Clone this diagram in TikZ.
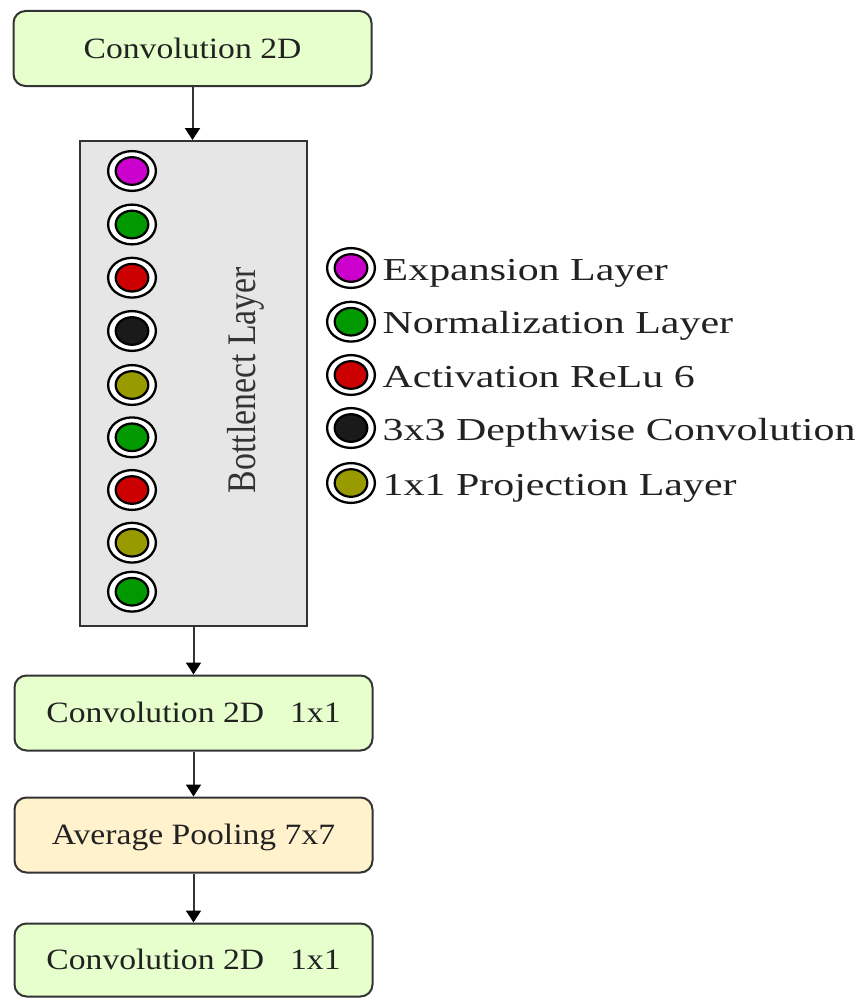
\documentclass[tikz,border=0pt]{standalone}
\usepackage{fontspec}
\setmainfont{Liberation Serif}
\newfontfamily\boxfont{Liberation Serif}[FakeStretch=1.14]
\newfontfamily\legendfont{Liberation Serif}[FakeStretch=1.31]
\usetikzlibrary{arrows.meta,shapes.geometric}

\definecolor{boxgreen}{HTML}{E6FFCC}
\definecolor{boxsand}{HTML}{FFF2CC}
\definecolor{panelgray}{HTML}{E6E6E6}
\definecolor{edgegray}{HTML}{333333}
\definecolor{inkdark}{HTML}{222222}
\definecolor{cexp}{HTML}{CC00CC}
\definecolor{cnorm}{HTML}{009900}
\definecolor{cact}{HTML}{CC0000}
\definecolor{cdw}{HTML}{1A1A1A}
\definecolor{cproj}{HTML}{999900}

\begin{document}
\begin{tikzpicture}[x=1pt,y=-1pt,
  layerbox/.style={rectangle, rounded corners=12pt, draw=edgegray, line width=2pt,
    minimum width=358pt, minimum height=75pt, inner sep=0pt,
    text height=19.3pt, text depth=0pt, text=inkdark,
    font=\boxfont\fontsize{29.5}{30}\selectfont},
  flow/.style={draw=edgegray, line width=2pt,
    -{Triangle[length=12pt,width=15pt,color=black]}},
  ring/.style={ellipse, draw=black, fill=white, line width=2.3pt,
    minimum width=47.8pt, minimum height=39.8pt, inner sep=0pt},
  core/.style={ellipse, draw=black, fill=#1, line width=2.2pt,
    minimum width=32.6pt, minimum height=27.6pt, inner sep=0pt},
  legendtext/.style={anchor=base west, inner sep=0pt, text=inkdark,
    font=\legendfont\fontsize{32}{34}\selectfont}
]
\useasboundingbox (0,0) rectangle (862,998);

% main flow of blocks
\node[layerbox, fill=boxgreen] (conv1) at (192.5,48.5) {Convolution 2D};
\node[draw=edgegray, fill=panelgray, line width=2pt, minimum width=227pt,
      minimum height=485pt, inner sep=0pt] (neck) at (193.5,383.5) {};
\node[layerbox, fill=boxgreen] (conv2) at (193.5,713) {Convolution 2D\hspace{26pt}1x1};
\node[layerbox, fill=boxsand] (pool) at (193.5,835) {Average Pooling 7x7};
\node[layerbox, fill=boxgreen, minimum height=73pt] (conv3) at (193.5,960) {Convolution 2D\hspace{26pt}1x1};

% vertical title of the bottleneck block
\node[inner sep=0pt, text=edgegray] (necklabel) at (245.5,380)
  {\scalebox{1.2}[1]{\rotatebox{90}{\fontsize{33.8}{34}\selectfont Bottlenect Layer}}};

% layer markers inside the bottleneck block
\foreach \i/\yy/\c in {1/171/cexp, 2/224.5/cnorm, 3/277.7/cact, 4/331/cdw,
                       5/385/cproj, 6/437.3/cnorm, 7/490/cact, 8/542.7/cproj,
                       9/591.7/cnorm} {
  \node[ring] (s\i) at (132,\yy) {};
  \node[core=\c] (s\i-in) at (s\i.center) {};
}

% legend
\foreach \i/\yy/\c/\t in {1/268/cexp/Expansion Layer,
                          2/321.7/cnorm/Normalization Layer,
                          3/375/cact/Activation ReLu 6,
                          4/428/cdw/3x3 Depthwise Convolution,
                          5/483/cproj/1x1 Projection Layer} {
  \node[ring] (k\i) at (351,\yy) {};
  \node[core=\c] (k\i-in) at (k\i.center) {};
  \node[legendtext] (k\i-txt) at ([xshift=31.5pt,yshift=-12pt]k\i.center) {\t};
}

% connectors
\draw[flow] (conv1.south) -- (conv1.south |- neck.north);
\draw[flow] (neck.south) -- (neck.south |- conv2.north);
\draw[flow] (conv2.south) -- (pool.north);
\draw[flow] (pool.south) -- (conv3.north);
\end{tikzpicture}
\end{document}
